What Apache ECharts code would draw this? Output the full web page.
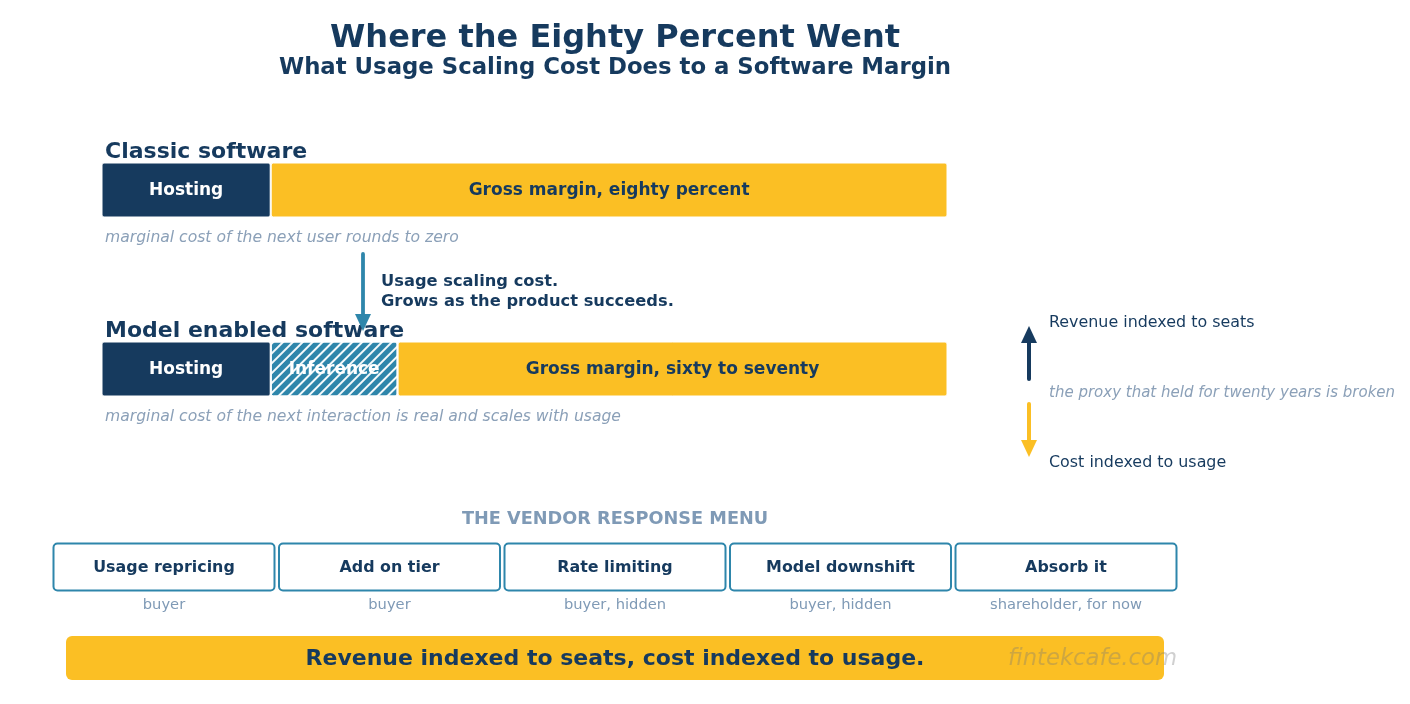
<!DOCTYPE html>
<html>
<head>
<meta charset="utf-8">
<script src="https://cdn.jsdelivr.net/npm/echarts@6/dist/echarts.min.js"></script>
<style>
html,body{margin:0;padding:0;background:#fff;}
#c{width:1410px;height:704px;}
</style>
</head>
<body>
<div id="c"></div>
<script>
// ---- data ----
var categories = ['Classic software', 'Model enabled software'];
var hostingValues = [20, 20];
var inferenceValues = [null, 15];
var marginValues = [80, 65];
var hostingLabels = ['Hosting', 'Hosting'];
var inferenceLabels = ['', 'Inference'];
var marginLabels = ['Gross margin, eighty percent', 'Gross margin, sixty to seventy'];
var rowNotes = ['marginal cost of the next user rounds to zero', 'marginal cost of the next interaction is real and scales with usage'];
var shiftNote = ['Usage scaling cost.', 'Grows as the product succeeds.'];
var sideNotes = ['Revenue indexed to seats', 'the proxy that held for twenty years is broken', 'Cost indexed to usage'];
var menuTitle = 'THE VENDOR RESPONSE MENU';
var menuItems = ['Usage repricing', 'Add on tier', 'Rate limiting', 'Model downshift', 'Absorb it'];
var menuWho = ['buyer', 'buyer', 'buyer, hidden', 'buyer, hidden', 'shareholder, for now'];
var titleText = 'Where the Eighty Percent Went';
var subtitleText = 'What Usage Scaling Cost Does to a Software Margin';
var bannerText = 'Revenue indexed to seats, cost indexed to usage.';
var watermark = 'fintekcafe.com';

// ---- style ----
var NAVY = '#163A5E', YELLOW = '#FBBF24', TEAL = '#2E86AB', GREY = '#7F9AB6', NOTE = '#8BA0B8';
var FONT = '"DejaVu Sans", sans-serif';

var chart = echarts.init(document.getElementById('c'), null, {renderer: 'canvas'});

function txt(x, y, s, size, weight, color, align, italic) {
  return {type: 'text', x: x, y: y, z: 10, style: {text: s, fontSize: size, fontWeight: weight, fill: color,
    fontFamily: FONT, align: align || 'left', verticalAlign: 'middle', fontStyle: italic ? 'italic' : 'normal'}};
}

var graphics = [];
graphics.push(txt(615, 39, titleText, 32, 'bold', NAVY, 'center'));
graphics.push(txt(615, 68.5, subtitleText, 22.8, 'bold', NAVY, 'center'));
graphics.push(txt(105, 152, categories[0], 22, 'bold', NAVY));
graphics.push(txt(105, 331, categories[1], 22, 'bold', NAVY));
graphics.push(txt(105, 238, rowNotes[0], 15.6, 'normal', NOTE, 'left', true));
graphics.push(txt(105, 417, rowNotes[1], 15.6, 'normal', NOTE, 'left', true));
graphics.push(txt(381, 282, shiftNote[0], 16.3, 'bold', NAVY));
graphics.push(txt(381, 302, shiftNote[1], 16.3, 'bold', NAVY));
// shift arrow
graphics.push({type: 'line', z: 20, shape: {x1: 363, y1: 254, x2: 363, y2: 318}, style: {stroke: TEAL, lineWidth: 3.8, lineCap: 'round'}});
graphics.push({type: 'polygon', z: 20, shape: {points: [[355, 314], [371, 314], [363, 331]]}, style: {fill: TEAL}});
// side arrows
graphics.push({type: 'line', z: 20, shape: {x1: 1029, y1: 379, x2: 1029, y2: 340}, style: {stroke: NAVY, lineWidth: 4, lineCap: 'round'}});
graphics.push({type: 'polygon', z: 20, shape: {points: [[1021, 343], [1037, 343], [1029, 326]]}, style: {fill: NAVY}});
graphics.push({type: 'line', z: 20, shape: {x1: 1029, y1: 404, x2: 1029, y2: 443}, style: {stroke: YELLOW, lineWidth: 4, lineCap: 'round'}});
graphics.push({type: 'polygon', z: 20, shape: {points: [[1021, 440], [1037, 440], [1029, 457]]}, style: {fill: YELLOW}});
graphics.push(txt(1049, 323, sideNotes[0], 15.9, 'normal', NAVY));
graphics.push(txt(1049, 393, sideNotes[1], 15, 'normal', NOTE, 'left', true));
graphics.push(txt(1049, 463, sideNotes[2], 15.9, 'normal', NAVY));
// menu
graphics.push(txt(615, 519, menuTitle, 17.7, 'bold', GREY, 'center'));
for (var i = 0; i < menuItems.length; i++) {
  var cx = 164 + i * 225.5;
  graphics.push({type: 'rect', z: 5, shape: {x: cx - 110.5, y: 543.5, width: 221, height: 47, r: 4},
    style: {fill: '#fff', stroke: TEAL, lineWidth: 2}});
  graphics.push(txt(cx, 568, menuItems[i], 15.9, 'bold', NAVY, 'center'));
  graphics.push(txt(cx, 605, menuWho[i], 14.7, 'normal', GREY, 'center'));
}
// banner
graphics.push({type: 'rect', z: 5, shape: {x: 66, y: 636, width: 1098, height: 44, r: 6}, style: {fill: YELLOW}});
graphics.push(txt(615, 659, bannerText, 22, 'bold', NAVY, 'center'));
graphics.push(txt(1008, 659, watermark, 22.7, 'normal', 'rgba(120,120,120,0.35)', 'left', true));

var labelBase = {show: true, position: 'inside', fontFamily: FONT, fontSize: 17, fontWeight: 'bold', offset: [0, 1]};

chart.setOption({
  animation: false,
  backgroundColor: '#fff',
  grid: {left: 101.5, width: 846, top: 100.5, height: 358, containLabel: false},
  xAxis: {type: 'value', min: 0, max: 100, show: false},
  yAxis: {type: 'category', data: categories, inverse: true, show: false},
  graphic: graphics,
  series: [
    {name: 'Hosting', type: 'bar', stack: 'm', data: hostingValues, barWidth: 55,
      itemStyle: {color: NAVY, borderColor: '#fff', borderWidth: 1, borderRadius: 2},
      label: Object.assign({}, labelBase, {color: '#fff', formatter: function (p) { return hostingLabels[p.dataIndex]; }})},
    {name: 'Inference', type: 'bar', stack: 'm', data: inferenceValues, barWidth: 55,
      itemStyle: {color: TEAL, borderColor: '#fff', borderWidth: 1, borderRadius: 2,
        decal: {symbol: 'rect', dashArrayX: [1, 0], dashArrayY: [2, 4.5], rotation: -Math.PI / 4, color: 'rgba(255,255,255,0.95)', symbolSize: 1}},
      label: Object.assign({}, labelBase, {color: '#fff', formatter: function (p) { return inferenceLabels[p.dataIndex]; }})},
    {name: 'Margin', type: 'bar', stack: 'm', data: marginValues, barWidth: 55,
      itemStyle: {color: YELLOW, borderColor: '#fff', borderWidth: 1, borderRadius: 2},
      label: Object.assign({}, labelBase, {color: NAVY, formatter: function (p) { return marginLabels[p.dataIndex]; }})}
  ]
});
</script>
</body>
</html>
